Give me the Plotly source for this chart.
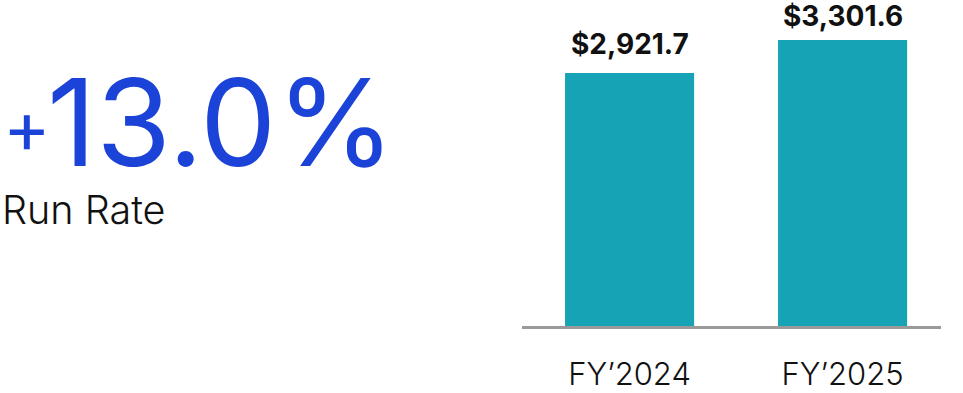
import plotly.graph_objects as go

categories = ["FY\u20192024", "FY\u20192025"]
values = [2921.7, 3301.6]
value_labels = ["$2,921.7", "$3,301.6"]
headline = "13.0%"
headline_sign = "+"
subtitle = "Run Rate"

W, H = 963, 393
L, R, T, B = 522, 22, 0, 67
pw = W - L - R
ph = H - T - B
YMAX = 3764

def px(x):
    return (x - L) / pw

def py(y):
    return (H - B - y) / ph

fig = go.Figure(go.Bar(
    x=categories, y=values, marker_color="#17a3b6", width=0.606,
    marker_line_width=0, hoverinfo="skip", cliponaxis=False))

for c, v, t in zip(categories, values, value_labels):
    top_px = T + ph * (1 - v / YMAX)
    shift = min(10, top_px - 35)  # keep the label inside the figure
    fig.add_annotation(x=c, y=v, text=t, showarrow=False, yanchor="bottom",
                       yshift=shift, font=dict(family="Inter", size=28, color="#111111", weight="bold"))

fig.add_annotation(xref="paper", yref="paper", x=px(45), y=py(122), text=headline,
                   showarrow=False, xanchor="left", yanchor="middle",
                   font=dict(family="Inter", size=121, color="#1c43d8"))
fig.add_annotation(xref="paper", yref="paper", x=px(1), y=py(126), text=headline_sign,
                   showarrow=False, xanchor="left", yanchor="middle",
                   font=dict(family="Inter", size=72, color="#1c43d8"))
fig.add_annotation(xref="paper", yref="paper", x=px(0), y=py(210), text=subtitle,
                   showarrow=False, xanchor="left", yanchor="middle",
                   font=dict(family="Inter", size=39.5, color="#111111", weight=300))

fig.update_layout(
    width=W, height=H, margin=dict(l=L, r=R, t=T, b=B, autoexpand=False),
    plot_bgcolor="white", paper_bgcolor="white", showlegend=False,
    xaxis=dict(range=[-0.505, 1.462], showline=True, linecolor="#9a9a9a", linewidth=3,
               showgrid=False, zeroline=False, ticks="", ticklabelstandoff=19,
               automargin=False,
               tickfont=dict(family="Inter", size=31, color="#111111", weight=300)),
    yaxis=dict(range=[0, YMAX], visible=False, showgrid=False, zeroline=False,
               automargin=False),
)
fig.write_html("out.html")
